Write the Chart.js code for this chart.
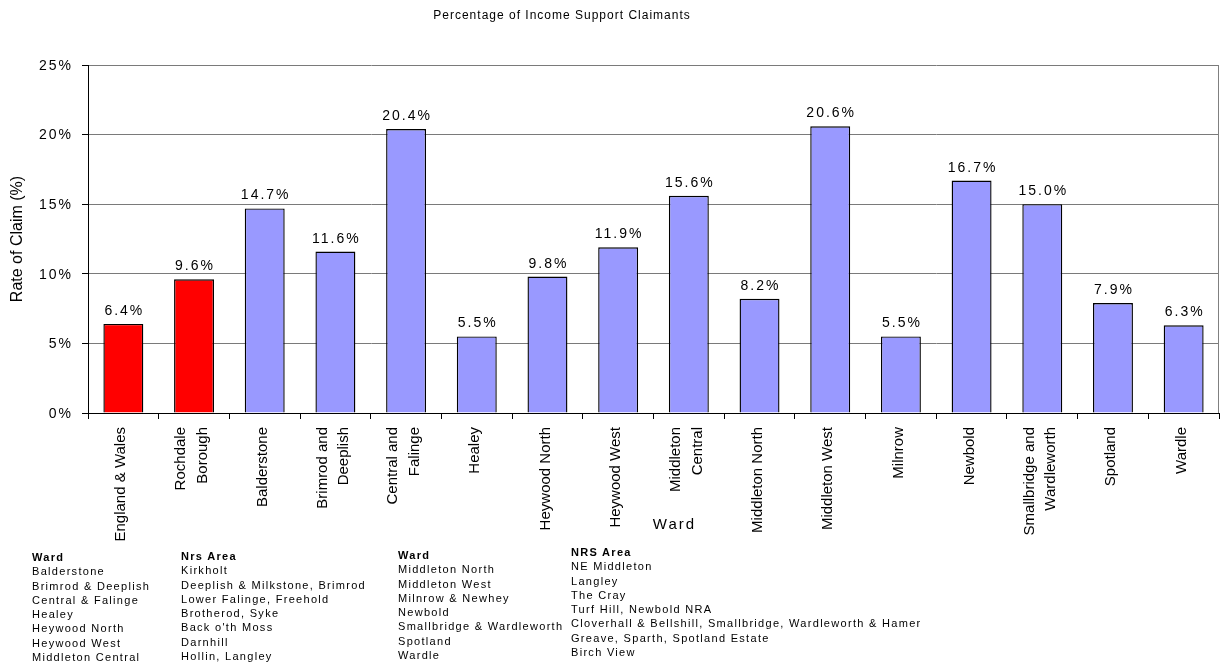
<!DOCTYPE html>
<html>
<head>
<meta charset="utf-8">
<title>Percentage of Income Support Claimants</title>
<script src="https://cdn.jsdelivr.net/npm/chart.js@4"></script>
<style>
  html, body { margin: 0; padding: 0; background: #fff; }
  #wrap { position: relative; width: 1223px; height: 664px; }
  #wrap canvas { position: absolute; left: 0; top: 0; }
  .col {
    position: absolute;
    font-family: 'Liberation Sans', Arial, sans-serif;
    font-size: 11px;
    letter-spacing: 1.3px;
    line-height: 14.3px;
    color: #000;
    white-space: nowrap;
  }
  .col b { font-weight: bold; }
</style>
</head>
<body>
<div id="wrap">
  <canvas id="chart"></canvas>
  <div class="col" id="c1" style="left:32px; top:550px;"></div>
  <div class="col" id="c2" style="left:181px; top:549px;"></div>
  <div class="col" id="c3" style="left:398px; top:548px;"></div>
  <div class="col" id="c4" style="left:571px; top:545px;"></div>
</div>
<script>
// wards and rates of claim (%)
const categories = [
  'England & Wales', ['Rochdale', 'Borough'], 'Balderstone', ['Brimrod and', 'Deeplish'],
  ['Central and', 'Falinge'], 'Healey', 'Heywood North', 'Heywood West',
  ['Middleton', 'Central'], 'Middleton North', 'Middleton West', 'Milnrow',
  'Newbold', ['Smallbridge and', 'Wardleworth'], 'Spotland', 'Wardle'
];
const rates = [6.4, 9.6, 14.7, 11.6, 20.4, 5.5, 9.8, 11.9, 15.6, 8.2, 20.6, 5.5, 16.7, 15.0, 7.9, 6.3];
const comparators = ['England & Wales', 'Rochdale Borough'];
const yTicks = [0, 5, 10, 15, 20, 25];

// key table under the chart
const wardsA = ['Balderstone', 'Brimrod & Deeplish', 'Central & Falinge', 'Healey', 'Heywood North', 'Heywood West', 'Middleton Central'];
const areasA = ['Kirkholt', 'Deeplish & Milkstone, Brimrod', 'Lower Falinge, Freehold', 'Brotherod, Syke', "Back o'th Moss", 'Darnhill', 'Hollin, Langley'];
const wardsB = ['Middleton North', 'Middleton West', 'Milnrow & Newhey', 'Newbold', 'Smallbridge & Wardleworth', 'Spotland', 'Wardle'];
const areasB = ['NE Middleton', 'Langley', 'The Cray', 'Turf Hill, Newbold NRA', 'Cloverhall & Bellshill, Smallbridge, Wardleworth & Hamer', 'Greave, Sparth, Spotland Estate', 'Birch View'];

function fillCol(id, head, rows) {
  const el = document.getElementById(id);
  el.innerHTML = '<b>' + head + '</b><br>' + rows.join('<br>');
}
fillCol('c1', 'Ward', wardsA);
fillCol('c2', 'Nrs Area', areasA);
fillCol('c3', 'Ward', wardsB);
fillCol('c4', 'NRS Area', areasB);

const FONT = "'Liberation Sans', Arial, sans-serif";
const barColors = rates.map((v, i) => i < comparators.length ? '#FF0000' : '#9999FF');

// text drawn by hand: title, tick labels, value labels, axis caption
const textPlugin = {
  id: 'textPlugin',
  afterDatasetsDraw(chart) {
    const ctx = chart.ctx;
    const meta = chart.getDatasetMeta(0);
    ctx.save();
    ctx.font = '14px ' + FONT;
    ctx.letterSpacing = '2px';
    ctx.fillStyle = '#000';
    ctx.textAlign = 'center';
    ctx.textBaseline = 'alphabetic';
    meta.data.forEach((bar, i) => {
      ctx.fillText(rates[i].toFixed(1) + '%', bar.x + 1, bar.y - 9);
    });
    ctx.restore();
  },
  afterDraw(chart) {
    const ctx = chart.ctx;
    const area = chart.chartArea;
    const x = chart.scales.x;
    const y = chart.scales.y;
    ctx.save();
    // plot frame on the right
    ctx.strokeStyle = '#808080';
    ctx.lineWidth = 1;
    ctx.beginPath();
    ctx.moveTo(Math.round(area.right) - 0.5, area.top);
    ctx.lineTo(Math.round(area.right) - 0.5, area.bottom);
    ctx.stroke();

    ctx.fillStyle = '#000';

    // category labels, rotated, lines spread around the tick
    ctx.font = '15px ' + FONT;
    ctx.textAlign = 'right';
    ctx.textBaseline = 'middle';
    categories.forEach((label, i) => {
      const lines = Array.isArray(label) ? label : [label];
      const cx = x.getPixelForTick(i);
      lines.forEach((line, j) => {
        const dx = (j - (lines.length - 1) / 2) * 21.5 - 2;
        ctx.save();
        ctx.translate(cx + dx, area.bottom + 14);
        ctx.rotate(-Math.PI / 2);
        ctx.fillText(line, 0, 0);
        ctx.restore();
      });
    });

    ctx.font = '14px ' + FONT;
    ctx.letterSpacing = '2px';
    ctx.textAlign = 'right';
    ctx.textBaseline = 'middle';
    yTicks.forEach(t => {
      ctx.fillText(t + '%', area.left - 15, y.getPixelForValue(t) + 1);
    });

    ctx.font = '12px ' + FONT;
    ctx.letterSpacing = '1px';
    ctx.textAlign = 'center';
    ctx.fillText('Percentage of Income Support Claimants', 562, 16);

    ctx.font = '15px ' + FONT;
    ctx.letterSpacing = '2px';
    ctx.fillText('Ward', (area.left + area.right) / 2 + 21, 525);
    ctx.restore();
  }
};

new Chart(document.getElementById('chart'), {
  type: 'bar',
  data: {
    labels: categories,
    datasets: [{
      data: rates,
      backgroundColor: barColors,
      borderColor: '#000',
      borderWidth: 1.4,
      categoryPercentage: 1,
      barPercentage: 0.565
    }]
  },
  options: {
    responsive: true,
    maintainAspectRatio: false,
    animation: false,
    layout: { padding: { top: 65, right: 4, left: 0, bottom: 0 } },
    plugins: {
      legend: { display: false },
      tooltip: { enabled: false }
    },
    scales: {
      x: {
        afterFit(scale) { scale.height = 251; },
        grid: { offset: true, drawOnChartArea: false, tickLength: 6, tickColor: '#000' },
        border: { color: '#000', width: 1 },
        ticks: {
          autoSkip: false,
          maxRotation: 90,
          minRotation: 90,
          color: 'rgba(0,0,0,0)',
          font: { family: FONT, size: 15 }
        }
      },
      y: {
        min: 0,
        max: 25,
        afterFit(scale) { scale.width = 88; },
        grid: { color: '#7a7a7a', tickLength: 6, tickColor: '#000' },
        border: { color: '#000', width: 1 },
        ticks: { stepSize: 5, color: 'rgba(0,0,0,0)', font: { family: FONT, size: 13 } },
        title: {
          display: true,
          text: 'Rate of Claim (%)',
          color: '#000',
          padding: { top: 8, bottom: 4 },
          font: { family: FONT, size: 16 }
        }
      }
    }
  },
  plugins: [textPlugin]
});
</script>
</body>
</html>
